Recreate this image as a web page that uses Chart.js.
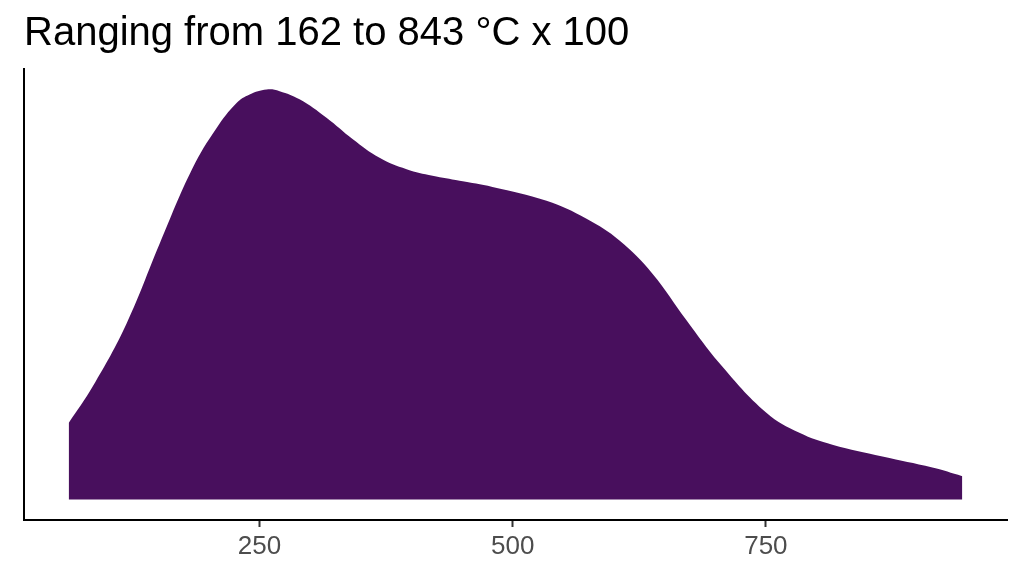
<!DOCTYPE html>
<html>
<head>
<meta charset="utf-8">
<title>Ranging from 162 to 843 °C x 100</title>
<script src="https://cdn.jsdelivr.net/npm/chart.js@4/dist/chart.umd.min.js"></script>
<style>
	html, body { margin: 0; padding: 0; background: #fff; }
	#wrap { width: 1024px; height: 576px; }
</style>
</head>
<body>
<div id="wrap"><canvas id="density-chart" width="1024" height="576"></canvas></div>
<script>
(function() {
	"use strict";

	var TITLE = "Ranging from 162 to 843 °C x 100";

	// density curve (y scaled so the peak is about 1)
	var densityX = [61.5, 85.2, 118.8, 151.3, 183.9, 207.6, 227.3, 240.2, 257.0, 269.8, 289.5,
		316.1, 341.8, 368.5, 395.2, 420.8, 447.5, 480.0, 533.4, 572.9, 605.4,
		638.0, 671.6, 704.2, 750.5, 783.1, 815.7, 865.1, 914.4, 944.0];
	var densityY = [0.187, 0.276, 0.431, 0.625, 0.810, 0.908, 0.969, 0.990, 1.002, 0.998, 0.978,
		0.933, 0.881, 0.835, 0.807, 0.791, 0.779, 0.764, 0.730, 0.686, 0.633,
		0.552, 0.438, 0.333, 0.212, 0.163, 0.134, 0.105, 0.078, 0.057];

	var xTicks = [250, 500, 750];

	var points = [];
	for (var i = 0; i < densityX.length; i++) {
		points.push({ x: densityX[i], y: densityY[i] });
	}

	var xSpan = densityX[densityX.length - 1] - densityX[0];
	var yMax = Math.max.apply(null, densityY);
	var FONT = "Liberation Sans, Arial, sans-serif";

	var ctx = document.getElementById("density-chart").getContext("2d");
	new Chart(ctx, {
		type: "line",
		data: {
			datasets: [{
				data: points,
				fill: "origin",
				backgroundColor: "#480F5D",
				borderWidth: 0,
				pointRadius: 0,
				tension: 0.4
			}]
		},
		options: {
			responsive: false,
			animation: false,
			layout: { padding: { left: 24, right: 17, top: 0, bottom: 0 } },
			plugins: {
				legend: { display: false },
				tooltip: { enabled: false },
				title: {
					display: true,
					text: TITLE,
					align: "start",
					color: "#000",
					font: { family: FONT, size: 40, weight: "normal", lineHeight: 1.2 },
					padding: { top: 10, bottom: 11 }
				}
			},
			scales: {
				x: {
					type: "linear",
					min: densityX[0] - 0.05 * xSpan,
					max: densityX[densityX.length - 1] + 0.05 * xSpan,
					afterBuildTicks: function(scale) {
						scale.ticks = xTicks.map(function(v) { return { value: v }; });
					},
					afterFit: function(scale) { scale.height = 56; },
					grid: { display: true, drawOnChartArea: false, tickLength: 7, tickWidth: 2, color: "#333" },
					border: { display: true, color: "#000", width: 2 },
					ticks: {
						color: "#4D4D4D",
						padding: 4,
						maxRotation: 0,
						font: { family: FONT, size: 26 }
					}
				},
				y: {
					min: -0.05 * yMax,
					max: 1.05 * yMax,
					afterFit: function(scale) { scale.width = 0; },
					grid: { display: false },
					border: { display: true, color: "#000", width: 2 },
					ticks: { display: false }
				}
			}
		}
	});
}) ();
</script>
</body>
</html>
